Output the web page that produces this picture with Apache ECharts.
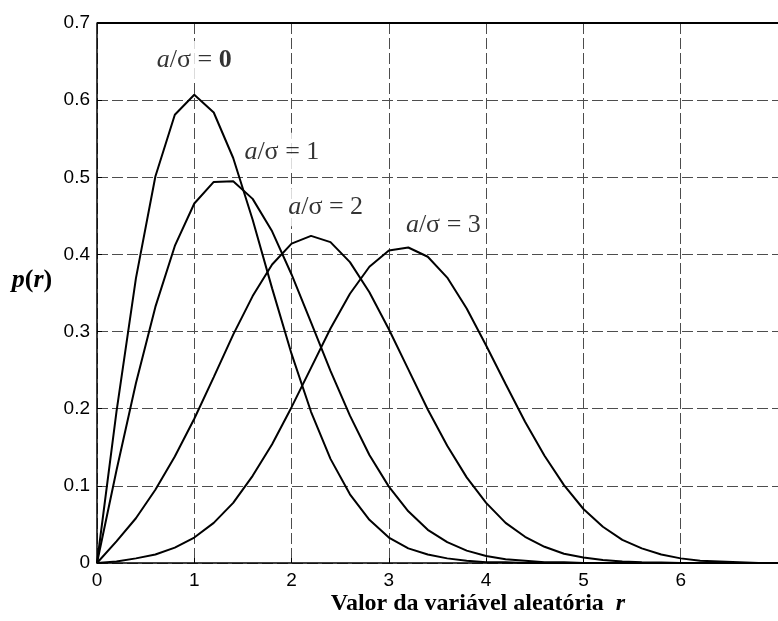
<!DOCTYPE html>
<html>
<head>
<meta charset="utf-8">
<style>
  html, body { margin: 0; padding: 0; background: #fff; }
  #chart { width: 778px; height: 621px; }
</style>
<script src="https://cdn.jsdelivr.net/npm/echarts@6/dist/echarts.min.js"></script>
</head>
<body>
<div id="chart"></div>
<script>
// Rice density p(r) for a/sigma = 0, 1, 2, 3, sampled every 0.2
const rValues = [0, 0.2, 0.4, 0.6, 0.8, 1.0, 1.2, 1.4, 1.6, 1.8, 2.0, 2.2, 2.4, 2.6, 2.8, 3.0,
  3.2, 3.4, 3.6, 3.8, 4.0, 4.2, 4.4, 4.6, 4.8, 5.0, 5.2, 5.4, 5.6, 5.8, 6.0, 6.2, 6.4, 6.6, 6.8, 7.0];

const pA0 = [0, 0.196, 0.369, 0.501, 0.581, 0.607, 0.584, 0.525, 0.445, 0.356, 0.271, 0.196,
  0.135, 0.089, 0.056, 0.033, 0.019, 0.011, 0.006, 0.003, 0.001, 0.001, 0, 0, 0, 0, 0, 0, 0, 0,
  0, 0, 0, 0, 0, 0];
const pA1 = [0, 0.120, 0.233, 0.332, 0.411, 0.466, 0.494, 0.495, 0.472, 0.430, 0.374, 0.312,
  0.249, 0.191, 0.140, 0.099, 0.067, 0.043, 0.027, 0.016, 0.009, 0.005, 0.003, 0.001, 0.001, 0,
  0, 0, 0, 0, 0, 0, 0, 0, 0, 0];
const pA2 = [0, 0.028, 0.058, 0.095, 0.138, 0.187, 0.241, 0.296, 0.346, 0.387, 0.414, 0.424,
  0.416, 0.390, 0.351, 0.303, 0.251, 0.199, 0.152, 0.111, 0.078, 0.052, 0.034, 0.021, 0.012,
  0.007, 0.004, 0.002, 0.001, 0.0005, 0, 0, 0, 0, 0, 0];
const pA3 = [0, 0.002, 0.006, 0.011, 0.020, 0.033, 0.052, 0.078, 0.113, 0.154, 0.202, 0.253,
  0.304, 0.349, 0.384, 0.405, 0.409, 0.397, 0.370, 0.330, 0.282, 0.232, 0.183, 0.139, 0.101,
  0.070, 0.047, 0.030, 0.019, 0.011, 0.006, 0.003, 0.002, 0.001, 0, 0];

// curve labels: the parameter value and where each label sits (r, p)
const curveParams = ['0', '1', '2', '3'];
const labelR = [1.0, 1.9, 2.35, 3.56];
const labelP = [0.652, 0.533, 0.461, 0.438];

const xTicks = [0, 1, 2, 3, 4, 5, 6, 7];
const yTicks = [0, 0.1, 0.2, 0.3, 0.4, 0.5, 0.6, 0.7];

const SERIF = '"Liberation Serif", "Times New Roman", serif';
const SANS = '"Liberation Sans", Arial, sans-serif';

function pairs(ys) { return rValues.map((r, i) => [r, ys[i]]); }

function curve(name, ys) {
  return {
    name: name,
    type: 'line',
    data: pairs(ys),
    symbol: 'none',
    silent: true,
    lineStyle: { color: '#000', width: 2 },
    z: 3
  };
}

const chart = echarts.init(document.getElementById('chart'), null, { renderer: 'canvas' });

chart.setOption({
  backgroundColor: '#fff',
  animation: false,
  grid: { left: 97, top: 23, right: -6, bottom: 58, show: false },
  xAxis: {
    type: 'value',
    min: xTicks[0],
    max: xTicks[xTicks.length - 1],
    interval: 1,
    axisLine: { show: true, onZero: false, lineStyle: { color: '#000', width: 1.5 } },
    axisTick: { show: true, inside: true, length: 5, lineStyle: { color: '#000' } },
    axisLabel: { color: '#000', fontFamily: SANS, fontSize: 19, margin: 8, showMaxLabel: false },
    splitLine: { show: true, lineStyle: { color: '#4d4d4d', width: 1, type: [11, 4] } }
  },
  yAxis: {
    type: 'value',
    min: yTicks[0],
    max: yTicks[yTicks.length - 1],
    interval: 0.1,
    axisLine: { show: true, lineStyle: { color: '#000', width: 1.5 } },
    axisTick: { show: true, inside: true, length: 5, lineStyle: { color: '#000' } },
    axisLabel: { color: '#000', fontFamily: SANS, fontSize: 19, margin: 7 },
    splitLine: { show: true, lineStyle: { color: '#4d4d4d', width: 1, type: [11, 4] } }
  },
  series: [
    curve('a0', pA0),
    curve('a1', pA1),
    curve('a2', pA2),
    curve('a3', pA3),
    {
      // top frame line
      type: 'line',
      data: [[xTicks[0], yTicks[yTicks.length - 1]], [xTicks[xTicks.length - 1], yTicks[yTicks.length - 1]]],
      symbol: 'none',
      silent: true,
      lineStyle: { color: '#000', width: 2 },
      z: 4
    },
    {
      type: 'scatter',
      symbolSize: 0,
      silent: true,
      z: 5,
      data: labelR.map((r, i) => ({ value: [r, labelP[i]], param: curveParams[i] })),
      label: {
        show: true,
        position: 'inside',
        color: '#000',
        textBorderWidth: 0,
        backgroundColor: '#fff',
        padding: [6, 2],
        formatter: p => '{a|a}{s|/σ = }' + (p.data.param === '0' ? '{b|' : '{s|') + p.data.param + '}',
        rich: {
          a: { fontFamily: SERIF, fontStyle: 'italic', fontSize: 26, color: '#000', textBorderWidth: 0 },
          s: { fontFamily: SERIF, fontSize: 26, color: '#000', textBorderWidth: 0 },
          b: { fontFamily: SERIF, fontWeight: 'bold', fontSize: 26, color: '#000', textBorderWidth: 0 }
        }
      }
    }
  ],
  graphic: [
    {
      type: 'text',
      x: 478,
      y: 604,
      style: {
        text: '{t|Valor da variável aleatória  }{r|r}',
        textAlign: 'center',
        textVerticalAlign: 'middle',
        rich: {
          t: { fontFamily: SERIF, fontWeight: 'bold', fontSize: 24, fill: '#000' },
          r: { fontFamily: SERIF, fontWeight: 'bold', fontStyle: 'italic', fontSize: 24, fill: '#000' }
        }
      }
    },
    {
      type: 'text',
      x: 32,
      y: 280,
      style: {
        text: '{i|p}{n|(}{i|r}{n|)}',
        textAlign: 'center',
        textVerticalAlign: 'middle',
        rich: {
          i: { fontFamily: SERIF, fontWeight: 'bold', fontStyle: 'italic', fontSize: 26, fill: '#000' },
          n: { fontFamily: SERIF, fontWeight: 'bold', fontSize: 26, fill: '#000' }
        }
      }
    }
  ]
});
</script>
</body>
</html>
